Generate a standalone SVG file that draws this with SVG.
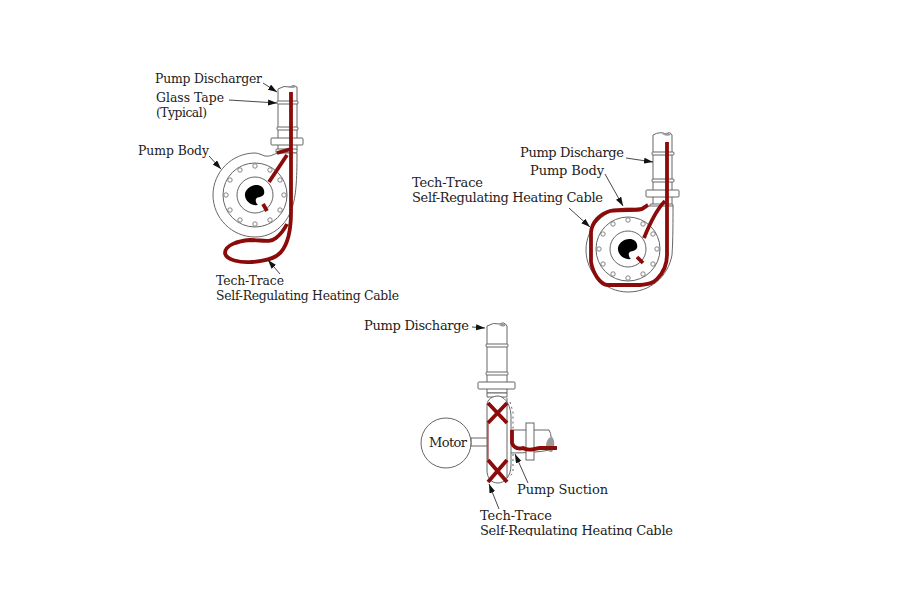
<svg xmlns="http://www.w3.org/2000/svg" width="900" height="600" viewBox="0 0 900 600">
<style>
text{font-family:"DejaVu Serif","Liberation Serif",serif;font-size:12.4px;fill:#222}
.m{font-size:13px}
.o{fill:#fff;stroke:#666;stroke-width:1}
.n{fill:none;stroke:#666;stroke-width:1}
.c{fill:none;stroke:#8b0a0a;stroke-width:3.8;stroke-linejoin:round;stroke-linecap:butt}
.l{fill:none;stroke:#333;stroke-width:.9;marker-end:url(#a)}
.b{fill:#999;stroke:none}
.h{fill:#fff;stroke:#777;stroke-width:.9}
</style>
<defs>
<marker id="a" markerUnits="userSpaceOnUse" markerWidth="10" markerHeight="7" refX="9" refY="3" orient="auto"><path d="M0 0L9 3L0 6Z" fill="#111"/></marker>
<clipPath id="cut"><rect x="470" y="505" width="220" height="31"/></clipPath>
<g id="holes">
<circle cx="0" cy="-29" r="2.2" class="h"/><circle cx="15" cy="-25" r="2.2" class="h"/><circle cx="25" cy="-15" r="2.2" class="h"/><circle cx="29" cy="0" r="2.2" class="h"/><circle cx="25" cy="15" r="2.2" class="h"/><circle cx="15" cy="25" r="2.2" class="h"/><circle cx="0" cy="29" r="2.2" class="h"/><circle cx="-15" cy="25" r="2.2" class="h"/><circle cx="-25" cy="15" r="2.2" class="h"/><circle cx="-29" cy="0" r="2.2" class="h"/><circle cx="-25" cy="-15" r="2.2" class="h"/><circle cx="-15" cy="-25" r="2.2" class="h"/>
</g>
<g id="impeller">
<circle r="32" class="n"/><use href="#holes"/><circle r="18" class="n"/>
<path d="M3 -10C8 -9 10 -5 9 -1C7 3 3 1 1 4C0 7 2 9 3 10C-3 11 -9 7 -10 1C-11 -5 -4 -11 3 -10Z" fill="#000"/>
</g>
</defs>

<g id="pump1">
<path class="o" d="M278 150V89Q284 85 290 87Q294 84 297 87V150Z"/>
<path class="b" d="M288 87Q293 84 296 87Q292 89 288 87Z"/>
<rect class="o" x="277" y="101" width="21" height="3" rx="1"/>
<rect class="o" x="277" y="127" width="21" height="3" rx="1"/>
<rect class="o" x="271" y="138" width="32" height="7" rx="1"/>
<rect class="o" x="276" y="149" width="21" height="4" rx="1"/>
<path class="o" d="M278 153C276 153 271 157 265 156C262 155 258 153 255 153C232 153 213 172 213 195C213 218 232 237 255 237C272 237 286 226 292 208C296 197 297 180 297 153Z"/>
<use href="#impeller" x="255" y="195"/>
<path class="c" d="M277 153L291 149"/>
<path class="c" d="M287 155L269 182"/>
<path class="c" d="M263 204L267 211"/>
<path class="c" d="M291 92V212C291 232 287 245 281 252C275 259 265 261 252 262C240 263 226 260 225 253C225 245 238 241 250 240C262 240 270 243 276 238C281 234 284 230 287 224"/>
</g>
<g id="pump2">
<path class="o" d="M653 205V135Q660 131 666 134Q670 131 672 135V205Z"/>
<path class="b" d="M662 134Q668 131 671 135Q666 137 662 134Z"/>
<rect class="o" x="652" y="152" width="22" height="3" rx="1"/>
<rect class="o" x="652" y="179" width="22" height="3" rx="1"/>
<rect class="o" x="646" y="190" width="33" height="7" rx="1"/>
<rect class="o" x="650" y="204" width="23" height="3" rx="1"/>
<path class="o" d="M650 206C644 206 640 209 632 208C630 208 629 208 628 208C605 208 586 227 586 250C586 273 605 292 628 292C650 292 668 277 672 255C673 240 673 220 673 206Z"/>
<use href="#impeller" x="628" y="249"/>
<path class="c" d="M665 201C656 210 648 228 644 238"/>
<path class="c" d="M637 257L643 263"/>
<path class="c" d="M667 142V255C667 266 662 274 657 279C653 283 650 284 640 285H608C600 285 593 273 591 262V232C592 222 600 214 610 211C622 209 638 211 642 209C645 207 646 206 648 205"/>
</g>
<g id="pump3">
<path class="o" d="M487 393V326Q493 322 500 324Q504 321 507 326V393Z"/>
<path class="b" d="M499 325Q503 322 506 325Q503 328 499 325Z"/>
<rect class="o" x="486" y="344" width="22" height="3" rx="1"/>
<rect class="o" x="486" y="372" width="22" height="3" rx="1"/>
<rect class="o" x="478" y="382" width="37" height="7" rx="1"/>
<path class="o" d="M487 393H507V397H487Z"/>
<rect class="o" x="471" y="438" width="17" height="8"/>
<circle id="motor" class="o" cx="446" cy="443" r="25"/>
<path class="o" d="M510 430H549Q553 436 550 450Q535 453 510 453Z"/>
<rect class="o" x="526" y="423" width="8" height="37"/>
<path class="b" d="M546 447C546 440 549 437 552 437C555 440 555 447 552 452C549 452 546 450 546 447Z"/>
<path class="o" d="M487 405C487 399 493 396 498 396C503 396 510 402 511 415V465C511 477 504 483 498 483C491 483 487 478 487 470Z"/>
<path class="n" d="M507 398V478"/>
<path class="n" stroke-dasharray="2 3" stroke-width="2" d="M510 402L513 412V430M513 454V472L509 478"/>
<path class="c" d="M512 430V443C514 449 520 449 523 448C530 452 535 448 540 448H557"/>
<path class="c" stroke-width="4.200" d="M488 403L507 423M507 403L488 423M488 482L507 460M507 482L488 460"/>
<path class="n" d="M488 423V460" style="stroke:#8b0a0a"/>
</g>
<g id="connectors">
<path class="l" d="M263 83L277 92"/>
<path class="l" d="M229 100L277 103"/>
<path class="l" d="M209 156L221 169"/>
<path class="l" d="M280 274L268 260"/>
<path class="l" d="M626 158L653 162"/>
<path class="l" d="M605 174L623 206"/>
<path class="l" d="M569 208L590 227"/>
<path class="l" d="M472 327L485 328"/>
<path class="l" d="M528 483L515 454"/>
<path class="l" d="M499 509L489 484"/>
</g>
<g id="labels">
<text x="155" y="83" textLength="107">Pump Discharger</text>
<text x="156" y="102" textLength="68">Glass Tape</text>
<text x="156" y="117" textLength="51">(Typical)</text>
<text x="138" y="155" textLength="71">Pump Body</text>
<text x="216" y="285" textLength="68">Tech-Trace</text>
<text x="216" y="300" textLength="183">Self-Regulating Heating Cable</text>
<text class="m" x="520" y="157" textLength="104">Pump Discharge</text>
<text class="m" x="530" y="175" textLength="74">Pump Body</text>
<text class="m" x="412" y="187" textLength="71">Tech-Trace</text>
<text class="m" x="412" y="202" textLength="191">Self-Regulating Heating Cable</text>
<text class="m" x="364" y="330" textLength="105">Pump Discharge</text>
<text class="m" x="429" y="447" textLength="38">Motor</text>
<text class="m" x="517" y="494" textLength="91">Pump Suction</text>
<text class="m" x="480" y="520" textLength="72">Tech-Trace</text>
<text class="m" x="480" y="535" textLength="193" clip-path="url(#cut)">Self-Regulating Heating Cable</text>
</g>
</svg>
